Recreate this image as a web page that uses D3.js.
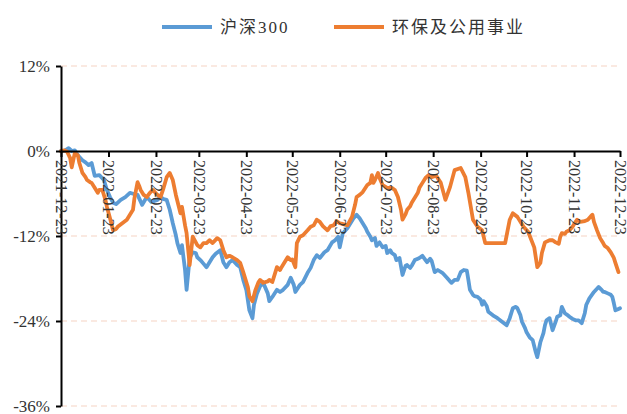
<!DOCTYPE html>
<html>
<head>
<meta charset="utf-8">
<script src="https://cdn.jsdelivr.net/npm/d3@7"></script>
<style>
  body { margin: 0; background: #fff; }
  svg { display: block; }
</style>
</head>
<body>
<script>
// 沪深300 cumulative return (%)
const hs300Dates = [
  "2021-12-23","2021-12-25","2021-12-28","2021-12-30","2022-01-01","2022-01-03","2022-01-06","2022-01-08","2022-01-10","2022-01-12",
  "2022-01-14","2022-01-17","2022-01-20","2022-01-22","2022-01-24","2022-01-26","2022-01-28","2022-01-31","2022-02-03","2022-02-06",
  "2022-02-09","2022-02-11","2022-02-14","2022-02-17","2022-02-20","2022-02-24","2022-02-26","2022-02-28","2022-03-02","2022-03-04",
  "2022-03-06","2022-03-08","2022-03-09","2022-03-11","2022-03-12","2022-03-14","2022-03-15","2022-03-17","2022-03-19","2022-03-21",
  "2022-03-22","2022-03-24","2022-03-26","2022-03-28","2022-03-30","2022-04-01","2022-04-03","2022-04-06","2022-04-08","2022-04-10",
  "2022-04-12","2022-04-14","2022-04-17","2022-04-19","2022-04-21","2022-04-23","2022-04-25","2022-04-27","2022-04-28","2022-04-30",
  "2022-05-02","2022-05-04","2022-05-07","2022-05-08","2022-05-10","2022-05-13","2022-05-15","2022-05-17","2022-05-20","2022-05-22",
  "2022-05-24","2022-05-25","2022-05-28","2022-05-30","2022-06-02","2022-06-04","2022-06-06","2022-06-08","2022-06-10","2022-06-13",
  "2022-06-15","2022-06-18","2022-06-20","2022-06-22","2022-06-23","2022-06-25","2022-06-28","2022-06-30","2022-07-02","2022-07-04",
  "2022-07-06","2022-07-08","2022-07-10","2022-07-11","2022-07-13","2022-07-14","2022-07-16","2022-07-17","2022-07-19","2022-07-21",
  "2022-07-23","2022-07-24","2022-07-26","2022-07-27","2022-07-29","2022-07-30","2022-08-01","2022-08-03","2022-08-05","2022-08-06",
  "2022-08-08","2022-08-09","2022-08-11","2022-08-13","2022-08-14","2022-08-16","2022-08-18","2022-08-19","2022-08-21","2022-08-22",
  "2022-08-24","2022-08-26","2022-08-29","2022-09-01","2022-09-03","2022-09-04","2022-09-06","2022-09-08","2022-09-10","2022-09-12",
  "2022-09-14","2022-09-15","2022-09-16","2022-09-18","2022-09-19","2022-09-21","2022-09-23","2022-09-24","2022-09-25","2022-09-27",
  "2022-09-28","2022-10-01","2022-10-04","2022-10-07","2022-10-10","2022-10-12","2022-10-14","2022-10-16","2022-10-17","2022-10-19",
  "2022-10-20","2022-10-22","2022-10-23","2022-10-25","2022-10-27","2022-10-29","2022-10-30","2022-11-01","2022-11-03","2022-11-04",
  "2022-11-05","2022-11-07","2022-11-09","2022-11-11","2022-11-12","2022-11-14","2022-11-15","2022-11-17","2022-11-19","2022-11-20",
  "2022-11-22","2022-11-24","2022-11-26","2022-11-28","2022-11-30","2022-12-01","2022-12-03","2022-12-06","2022-12-09","2022-12-11",
  "2022-12-12","2022-12-13","2022-12-15","2022-12-17","2022-12-18","2022-12-19","2022-12-20","2022-12-22","2022-12-23"
];
const hs300Values = [
  0, 0, 0.4, 0, 0.1, -0.6, -1.3, -1.6, -2.0, -1.7,
  -3.5, -3.4, -4.1, -5.5, -6.5, -7.3, -7.5, -6.9, -6.5, -5.9,
  -6.1, -6.2, -7.6, -6.5, -7.2, -6.9, -6.5, -6.8, -6.9, -8.3,
  -10.2, -11.9, -13.0, -14.4, -13.3, -16.8, -19.6, -15.1, -14.3, -14.4,
  -15.0, -15.4, -15.9, -16.4, -15.7, -15.0, -14.5, -14.0, -15.7, -16.4,
  -15.7, -15.4, -16.1, -16.4, -18.2, -19.6, -22.5, -23.6, -21.7, -20.1,
  -19.1, -18.6, -20.1, -21.2, -20.6, -19.6, -19.9, -19.6, -18.9, -17.9,
  -18.9, -19.9, -18.9, -18.5, -17.2, -16.5, -15.4, -14.7, -15.1, -14.3,
  -14.0, -12.9, -12.6, -12.1, -13.6, -11.6, -10.9, -10.2, -9.5, -9.0,
  -9.5, -10.2, -10.9, -11.4, -12.1, -12.6, -12.3, -13.4, -12.9, -13.6,
  -13.4, -14.4, -14.0, -14.4, -14.7, -15.4, -15.1, -17.5, -16.2, -16.1,
  -16.5, -16.2, -15.4, -15.2, -15.1, -14.8, -15.4, -15.7, -15.2, -15.5,
  -17.1, -16.8, -17.2, -17.9, -18.4, -18.6, -18.2, -18.2, -17.1, -16.8,
  -16.9, -18.2, -19.6, -20.3, -20.5, -20.6, -21.0, -21.7, -21.2, -21.9,
  -22.7, -23.2, -23.6, -24.1, -24.6, -23.6, -22.2, -22.0, -22.2, -23.2,
  -24.1, -25.0, -25.6, -26.3, -26.7, -28.4, -29.1, -27.0, -25.7, -24.6,
  -23.9, -23.6, -25.3, -24.1, -23.4, -23.2, -22.0, -22.9, -23.2, -23.4,
  -23.7, -23.9, -23.9, -24.3, -22.9, -21.7, -20.8, -19.9, -19.2, -19.6,
  -19.9, -19.9, -20.1, -20.3, -20.6, -21.5, -22.5, -22.3, -22.2
];

// 环保及公用事业 cumulative return (%)
const envDates = [
  "2021-12-23","2021-12-25","2021-12-27","2021-12-29","2021-12-30","2022-01-01","2022-01-03","2022-01-04","2022-01-06","2022-01-08",
  "2022-01-09","2022-01-11","2022-01-12","2022-01-14","2022-01-16","2022-01-17","2022-01-19","2022-01-21","2022-01-22","2022-01-24",
  "2022-01-26","2022-01-28","2022-01-29","2022-02-01","2022-02-04","2022-02-06","2022-02-08","2022-02-09","2022-02-11","2022-02-12",
  "2022-02-13","2022-02-15","2022-02-17","2022-02-19","2022-02-21","2022-02-24","2022-02-26","2022-02-28","2022-03-02","2022-03-04",
  "2022-03-06","2022-03-08","2022-03-11","2022-03-12","2022-03-14","2022-03-15","2022-03-17","2022-03-19","2022-03-22","2022-03-24",
  "2022-03-26","2022-03-28","2022-03-30","2022-04-01","2022-04-04","2022-04-06","2022-04-08","2022-04-10","2022-04-12","2022-04-14",
  "2022-04-17","2022-04-19","2022-04-21","2022-04-24","2022-04-25","2022-04-27","2022-04-29","2022-05-01","2022-05-02","2022-05-04",
  "2022-05-07","2022-05-08","2022-05-10","2022-05-13","2022-05-15","2022-05-16","2022-05-18","2022-05-20","2022-05-22","2022-05-23",
  "2022-05-25","2022-05-26","2022-05-28","2022-05-30","2022-06-02","2022-06-04","2022-06-06","2022-06-08","2022-06-10","2022-06-12",
  "2022-06-15","2022-06-17","2022-06-19","2022-06-21","2022-06-23","2022-06-25","2022-06-28","2022-06-30","2022-07-01","2022-07-03",
  "2022-07-04","2022-07-06","2022-07-08","2022-07-11","2022-07-13","2022-07-14","2022-07-15","2022-07-16","2022-07-18","2022-07-19",
  "2022-07-21","2022-07-24","2022-07-27","2022-07-29","2022-07-31","2022-08-02","2022-08-03","2022-08-05","2022-08-06","2022-08-08",
  "2022-08-09","2022-08-11","2022-08-13","2022-08-14","2022-08-16","2022-08-18","2022-08-20","2022-08-22","2022-08-25","2022-08-28",
  "2022-08-31","2022-09-03","2022-09-06","2022-09-10","2022-09-13","2022-09-15","2022-09-18","2022-09-21","2022-09-24","2022-09-26",
  "2022-09-30","2022-10-05","2022-10-09","2022-10-12","2022-10-14","2022-10-17","2022-10-21","2022-10-24","2022-10-28","2022-10-30",
  "2022-11-01","2022-11-02","2022-11-04","2022-11-07","2022-11-09","2022-11-11","2022-11-13","2022-11-14","2022-11-15","2022-11-17",
  "2022-11-18","2022-11-20","2022-11-22","2022-11-24","2022-11-25","2022-11-27","2022-11-30","2022-12-02","2022-12-04","2022-12-05",
  "2022-12-06","2022-12-08","2022-12-10","2022-12-12","2022-12-13","2022-12-15","2022-12-17","2022-12-19","2022-12-20","2022-12-22"
];
const envValues = [
  0, 0.1, -0.1, -1.0, -2.3, -0.3, -0.6, -1.7, -3.1, -3.7,
  -4.1, -4.4, -4.5, -5.2, -5.9, -5.5, -5.5, -6.9, -7.9, -9.5,
  -11.2, -11.0, -10.7, -10.2, -9.7, -9.0, -8.3, -6.6, -4.4, -4.9,
  -5.5, -6.2, -6.5, -5.9, -5.5, -6.2, -6.5, -5.2, -3.7, -3.1,
  -4.1, -6.2, -8.8, -7.9, -10.5, -11.6, -16.1, -12.1, -13.3, -13.6,
  -13.0, -13.0, -12.6, -13.0, -12.3, -12.6, -14.0, -15.0, -14.8, -15.0,
  -15.4, -15.8, -17.1, -19.2, -20.5, -21.2, -19.6, -18.5, -18.2, -18.6,
  -18.4, -18.2, -18.5, -16.4, -16.8, -16.4, -15.7, -15.0, -15.4, -15.3,
  -16.4, -13.0, -12.1, -11.9, -11.2, -10.7, -10.5, -9.7, -10.0, -10.6,
  -11.2, -10.6, -10.5, -9.9, -10.2, -10.3, -10.5, -9.7, -9.3, -7.6,
  -6.5, -6.2, -5.8, -4.8, -4.5, -3.4, -4.5, -4.1, -3.1, -3.8,
  -4.8, -5.2, -5.2, -5.5, -6.5, -8.3, -9.7, -8.9, -8.3, -7.8,
  -7.3, -6.6, -5.9, -5.2, -4.5, -3.8, -3.4, -3.7, -3.5, -4.5,
  -6.9, -5.1, -2.7, -2.4, -3.7, -5.9, -9.7, -10.7, -11.2, -13.0,
  -13.0, -13.0, -13.0, -9.7, -8.8, -9.3, -10.7, -11.4, -13.6, -16.4,
  -15.8, -14.4, -12.9, -12.6, -12.6, -12.9, -13.1, -12.1, -11.6, -11.7,
  -11.4, -11.2, -10.7, -10.0, -9.7, -10.0, -9.9, -9.7, -9.2, -9.0,
  -10.0, -11.2, -12.3, -13.0, -13.4, -13.7, -14.3, -15.1, -15.8, -17.1
];

const seriesNames = ["沪深300", "环保及公用事业"];
const yTicks = [12, 0, -12, -24, -36];
const xTicks = [
  "2021-12-23","2022-01-23","2022-02-23","2022-03-23","2022-04-23","2022-05-23","2022-06-23",
  "2022-07-23","2022-08-23","2022-09-23","2022-10-23","2022-11-23","2022-12-23"
];

// ---- drawing ----
const W = 627, H = 414;
const colors = ["#5B9BD5", "#ED7D31"];
const serif = "'Liberation Serif', 'Times New Roman', serif";
const parse = d3.timeParse("%Y-%m-%d");
const fmt = d3.timeFormat("%Y-%m-%d");

const x = d3.scaleTime()
  .domain([parse(xTicks[0]), parse(xTicks[xTicks.length - 1])])
  .range([61, 620]);
const y = d3.scaleLinear().domain([-36, 12]).range([406, 66]);

const svg = d3.select("body").append("svg")
  .attr("width", W).attr("height", H);

// dashed gridlines
svg.append("g").selectAll("line")
  .data(yTicks.filter(v => v !== 0))
  .join("line")
  .attr("x1", x.range()[0]).attr("x2", x.range()[1])
  .attr("y1", d => y(d)).attr("y2", d => y(d))
  .attr("stroke", "#F6D3C3")
  .attr("stroke-width", 1.2)
  .attr("stroke-dasharray", "6,4");

// series lines
const series = [
  { name: seriesNames[0], pts: hs300Dates.map((d, i) => [parse(d), hs300Values[i]]) },
  { name: seriesNames[1], pts: envDates.map((d, i) => [parse(d), envValues[i]]) }
];
const line = d3.line().x(d => x(d[0])).y(d => y(d[1]));
svg.append("g").selectAll("path")
  .data(series)
  .join("path")
  .attr("d", d => line(d.pts))
  .attr("fill", "none")
  .attr("stroke", (d, i) => colors[i])
  .attr("stroke-width", 3.8)
  .attr("stroke-linejoin", "round")
  .attr("stroke-linecap", "round");

// y axis
const yAxis = svg.append("g")
  .attr("transform", `translate(${x.range()[0]},0)`)
  .call(d3.axisLeft(y).tickValues(yTicks).tickFormat(d => d + "%").tickSize(5).tickSizeOuter(0).tickPadding(6));
yAxis.select(".domain").attr("stroke", "#000").attr("stroke-width", 2);
yAxis.selectAll(".tick line").attr("stroke", "#000").attr("stroke-width", 2);
yAxis.selectAll("text")
  .attr("font-family", serif).attr("font-size", 17).attr("fill", "#333");

// x axis at 0%
const xAxis = svg.append("g")
  .attr("transform", `translate(0,${y(0)})`)
  .call(d3.axisBottom(x).tickValues(xTicks.map(parse)).tickFormat(fmt).tickSize(6).tickSizeOuter(0));
xAxis.select(".domain").attr("stroke", "#000").attr("stroke-width", 2);
xAxis.selectAll(".tick line").attr("stroke", "#000").attr("stroke-width", 2);
xAxis.selectAll("text")
  .attr("font-family", serif).attr("font-size", 16).attr("fill", "#333")
  .attr("transform", "rotate(90)")
  .attr("x", 9).attr("y", 0).attr("dy", "0.35em")
  .style("text-anchor", "start");

// legend
const legendPos = [{ lx: 162, tx: 220 }, { lx: 334, tx: 392 }];
const legend = svg.append("g").selectAll("g")
  .data(seriesNames)
  .join("g");
legend.append("line")
  .attr("x1", (d, i) => legendPos[i].lx).attr("x2", (d, i) => legendPos[i].lx + 50)
  .attr("y1", 27).attr("y2", 27)
  .attr("stroke", (d, i) => colors[i])
  .attr("stroke-width", 4);
legend.append("text")
  .attr("x", (d, i) => legendPos[i].tx).attr("y", 33)
  .attr("font-family", "'Liberation Serif', 'Noto Sans CJK SC', serif")
  .attr("font-size", 17)
  .attr("letter-spacing", 2)
  .attr("fill", "#333")
  .text(d => d);
</script>
</body>
</html>
